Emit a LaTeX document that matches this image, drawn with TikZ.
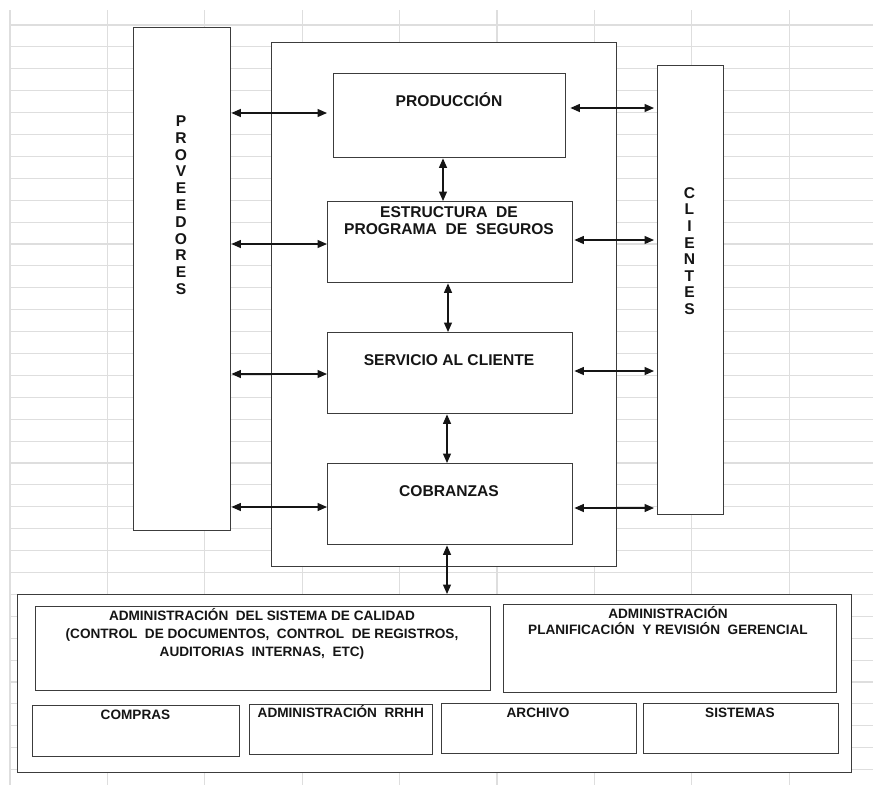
\documentclass[tikz,border=0pt]{standalone}
\usepackage{fontspec}
\setmainfont{Liberation Sans}
\usetikzlibrary{arrows.meta}
\definecolor{gridgray}{HTML}{DEDEDE}
\definecolor{boxgray}{HTML}{3C3C3C}
\definecolor{inkcol}{HTML}{151515}
\begin{document}
\begin{tikzpicture}[x=1pt,y=-1pt,
  box/.style={draw=boxgray, line width=1.4pt, fill=white, inner sep=0pt, anchor=north west},
  big/.style={font=\fontsize{15.6}{17}\selectfont\bfseries, text=inkcol, inner sep=0pt, anchor=base},
  small/.style={font=\fontsize{13.6}{16}\selectfont\bfseries, text=inkcol, inner sep=0pt, anchor=base},
  dbl/.style={{Triangle[length=9.5pt,width=8pt]}-{Triangle[length=9.5pt,width=8pt]}, line width=1.3pt, draw=inkcol},
  gridline/.style={draw=gridgray, line width=1.1pt}]

% page and background
\useasboundingbox (0,0) rectangle (873,785);
\fill[white] (0,0) rectangle (873,785);

% spreadsheet grid
\foreach \k in {0,...,8}
  \draw[gridline] (10+97.4*\k,10) -- (10+97.4*\k,785);
\foreach \k in {0,...,34}
  \draw[gridline] (10,25+21.9*\k) -- (873,25+21.9*\k);

% side columns
\node[box, minimum width=97, minimum height=503] (prov) at (133,27) {};
\node[box, minimum width=66, minimum height=449] (cli) at (657,65) {};

% central block
\node[box, minimum width=345, minimum height=524] (core) at (271,42) {};
\node[box, minimum width=232, minimum height=84] (prod) at (333,73) {};
\node[box, minimum width=245, minimum height=81] (estr) at (327,201) {};
\node[box, minimum width=245, minimum height=81] (serv) at (327,332) {};
\node[box, minimum width=245, minimum height=81] (cobr) at (327,463) {};

% support area
\node[box, minimum width=834, minimum height=178] (apoyo) at (17,594) {};
\node[box, minimum width=455, minimum height=84] (calidad) at (35,606) {};
\node[box, minimum width=333, minimum height=88] (gerencia) at (503,604) {};
\node[box, minimum width=207, minimum height=51] (compras) at (32,705) {};
\node[box, minimum width=183, minimum height=50] (rrhh) at (249,704) {};
\node[box, minimum width=195, minimum height=50] (archivo) at (441,703) {};
\node[box, minimum width=195, minimum height=50] (sistemas) at (643,703) {};

% labels of the central block
\node[big] (t-prod) at (449,106) {PRODUCCIÓN};
\node[big] (t-estr1) at (449,217.3) {ESTRUCTURA\ \ DE};
\node[big] (t-estr2) at (449,234) {PROGRAMA\ \ DE\ \ SEGUROS};
\node[big] (t-serv) at (449,365) {SERVICIO AL CLIENTE};
\node[big] (t-cobr) at (449,496) {COBRANZAS};

% vertical labels of the side columns
\foreach \l [count=\i from 0] in {P,R,O,V,E,E,D,O,R,E,S}
  \node[big] (t-prov-\i) at (181,126.5+16.8*\i) {\l};
\foreach \l [count=\i from 0] in {C,L,I,E,N,T,E,S}
  \node[big] (t-cli-\i) at (689.5,198.2+16.6*\i) {\l};

% labels of the support area
\node[small] (t-cal1) at (262,620.7) {ADMINISTRACIÓN\ \ DEL SISTEMA DE CALIDAD};
\node[small] (t-cal2) at (262,638.3) {(CONTROL\ \ DE DOCUMENTOS,\ \ CONTROL\ \ DE REGISTROS,};
\node[small] (t-cal3) at (262,656) {AUDITORIAS\ \ INTERNAS,\ \ ETC)};
\node[small] (t-ger1) at (668,618.3) {ADMINISTRACIÓN};
\node[small] (t-ger2) at (668,634.3) {PLANIFICACIÓN\ \ Y REVISIÓN\ \ GERENCIAL};
\node[small] (t-com) at (135.5,719.3) {COMPRAS};
\node[small] (t-rrhh) at (340.8,717.7) {ADMINISTRACIÓN\ \ RRHH};
\node[small] (t-arc) at (538,717.3) {ARCHIVO};
\node[small] (t-sis) at (740,717.3) {SISTEMAS};

% links to suppliers
\draw[dbl, shorten >=6pt] (prov.east |- 0,113) -- (prod.west |- 0,113);
\draw[dbl] (prov.east |- 0,244) -- (estr.west |- 0,244);
\draw[dbl] (prov.east |- 0,374) -- (serv.west |- 0,374);
\draw[dbl] (prov.east |- 0,507) -- (cobr.west |- 0,507);

% links to clients
\draw[dbl, shorten <=4pt, shorten >=3pt] (prod.east |- 0,108) -- (cli.west |- 0,108);
\draw[dbl, shorten <=1pt, shorten >=3pt] (estr.east |- 0,240) -- (cli.west |- 0,240);
\draw[dbl, shorten <=1pt, shorten >=3pt] (serv.east |- 0,371) -- (cli.west |- 0,371);
\draw[dbl, shorten <=1pt, shorten >=3pt] (cobr.east |- 0,508) -- (cli.west |- 0,508);

% links down the process chain
\draw[dbl] (prod.south -| 443,0) -- (estr.north -| 443,0);
\draw[dbl] (estr.south -| 448,0) -- (serv.north -| 448,0);
\draw[dbl] (serv.south -| 447,0) -- (cobr.north -| 447,0);
\draw[dbl] (cobr.south -| 447,0) -- (apoyo.north -| 447,0);
\end{tikzpicture}
\end{document}
